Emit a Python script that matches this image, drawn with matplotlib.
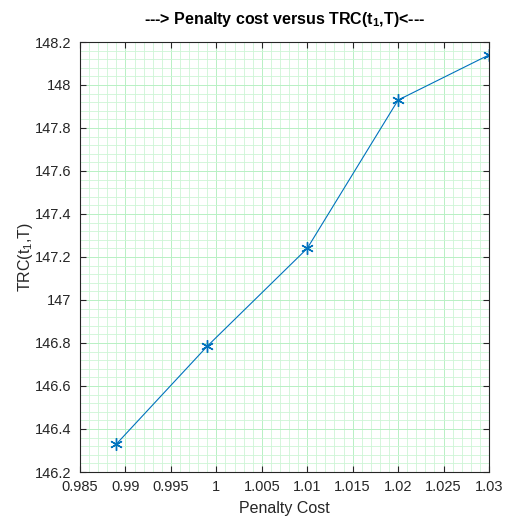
import matplotlib
matplotlib.use("Agg")
import matplotlib.pyplot as plt
from matplotlib.ticker import MultipleLocator

plt.rcParams['font.family'] = ['Liberation Sans', 'DejaVu Sans']
plt.rcParams['mathtext.default'] = 'regular'

penalty_cost = [0.989, 0.999, 1.010, 1.020, 1.030]
trc = [146.33, 146.785, 147.24, 147.93, 148.14]
x_ticks = [0.985, 0.99, 0.995, 1.0, 1.005, 1.01, 1.015, 1.02, 1.025, 1.03]
x_tick_labels = ['0.985', '0.99', '0.995', '1', '1.005', '1.01', '1.015', '1.02', '1.025', '1.03']
y_ticks = [146.2, 146.4, 146.6, 146.8, 147.0, 147.2, 147.4, 147.6, 147.8, 148.0, 148.2]
y_tick_labels = ['146.2', '146.4', '146.6', '146.8', '147', '147.2', '147.4', '147.6', '147.8', '148', '148.2']

fig = plt.figure(figsize=(5.05, 5.29), dpi=100)
ax = fig.add_axes([80/505, 1 - 472/529, (489-80)/505, (472-42)/529])

ax.plot(penalty_cost, trc, color='#0072BD', linewidth=0.8, marker=(6, 2, 0), markersize=9, markeredgewidth=1.0)

ax.set_xlim(0.985, 1.03)
ax.set_ylim(146.2, 148.2)
ax.set_xticks(x_ticks)
ax.set_xticklabels(x_tick_labels)
ax.set_yticks(y_ticks)
ax.set_yticklabels(y_tick_labels)
ax.xaxis.set_minor_locator(MultipleLocator(0.001))
ax.yaxis.set_minor_locator(MultipleLocator(0.04))
ax.grid(True, which='major', color='#b8f0c4', linewidth=0.7)
ax.grid(True, which='minor', color='#cdf5d6', linewidth=0.6)
ax.set_axisbelow(True)
ax.tick_params(which='major', direction='in', top=True, right=True, length=4, width=0.8, labelsize=10.5, colors='#262626', pad=6)
ax.tick_params(which='minor', length=0, top=True, right=True)
for s in ax.spines.values():
    s.set_color('#262626')
    s.set_linewidth(0.8)

ax.set_xlabel('Penalty Cost', fontsize=11.5, color='#262626', labelpad=5)
ax.set_ylabel('TRC(t$_1$,T)', fontsize=11.5, color='#262626', labelpad=0)
ax.set_title('---> Penalty cost versus TRC(t$_1$,T)<---', fontsize=11.5, fontweight='bold', pad=13)

fig.savefig('out.png', dpi=100)
